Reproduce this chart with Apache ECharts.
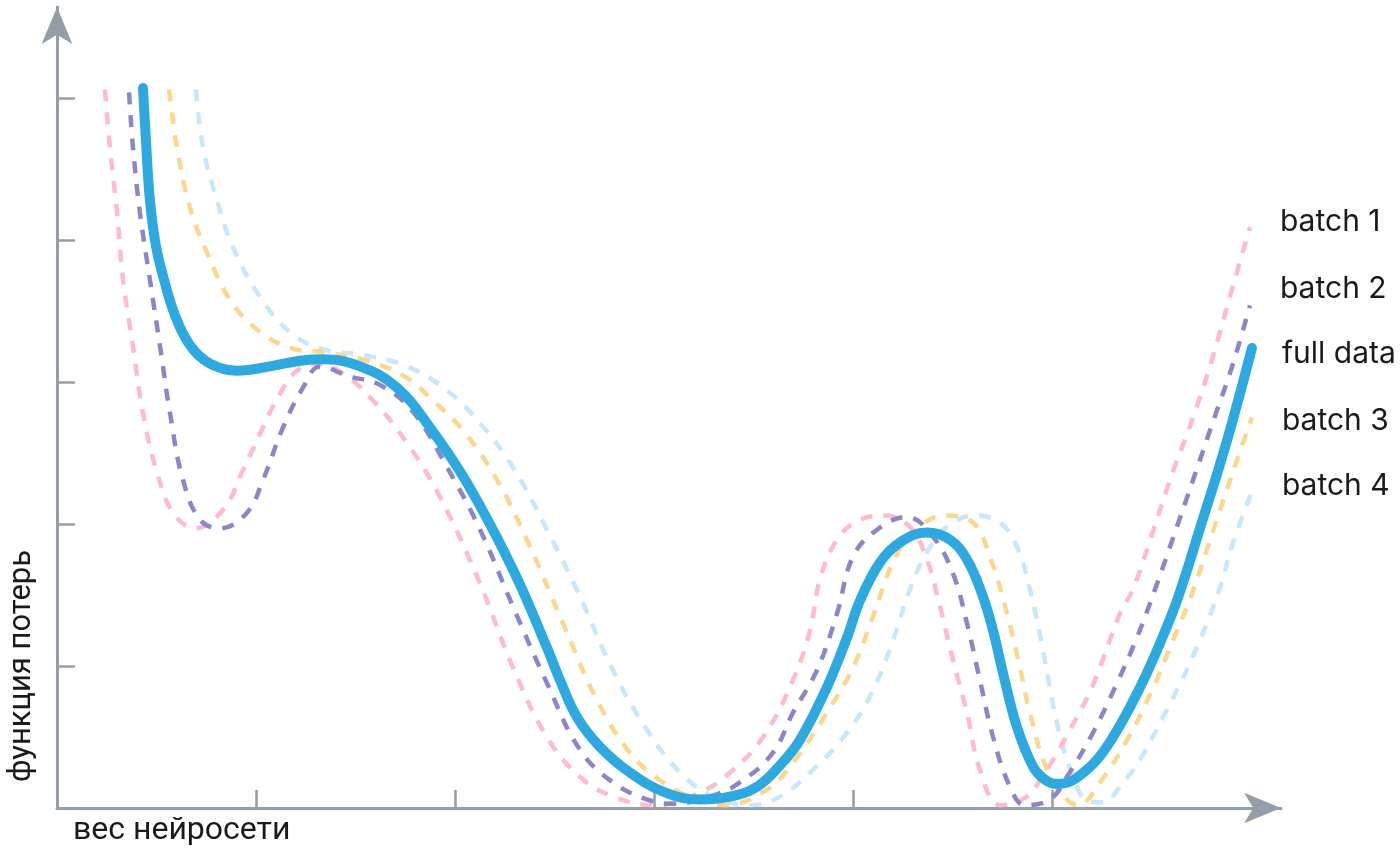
<!DOCTYPE html>
<html>
<head>
<meta charset="utf-8">
<script src="https://cdn.jsdelivr.net/npm/echarts@6/dist/echarts.min.js"></script>
<style>html,body{margin:0;padding:0;background:#fff}#c{width:1400px;height:850px}</style>
</head>
<body>
<div id="c"></div>
<script>
const seriesNames = ['batch 1', 'batch 2', 'batch 3', 'batch 4', 'full data'];
const xAxisTicks = [1, 2, 3, 4, 5];
const yAxisTicks = [1, 2, 3, 4, 5];
const xAxisTitle = 'вес нейросети';
const yAxisTitle = 'функция потерь';

const batch1 = [[0.241,5.06],[0.266,4.65],[0.302,4.19],[0.332,3.72],[0.382,3.25],[0.432,2.78],[0.503,2.36],[0.583,2.08],[0.693,1.97],[0.834,2.10],[0.935,2.38],[1.035,2.68],[1.121,2.92],[1.206,3.08],[1.307,3.13],[1.437,3.06],[1.588,2.87],[1.759,2.57],[1.925,2.19],[2.126,1.58],[2.291,0.99],[2.462,0.50],[2.628,0.22],[2.794,0.08],[3.005,0.02],[3.231,0.11],[3.382,0.25],[3.548,0.50],[3.698,0.90],[3.784,1.25],[3.834,1.61],[3.920,1.89],[4.035,2.03],[4.161,2.06],[4.286,1.98],[4.372,1.75],[4.437,1.42],[4.503,1.04],[4.573,0.67],[4.638,0.27],[4.739,0.02],[4.874,0.08],[4.950,0.22],[5.010,0.35],[5.090,0.55],[5.201,0.85],[5.342,1.37],[5.407,1.54],[5.508,1.95],[5.608,2.37],[5.709,2.75],[5.809,3.18],[5.910,3.68],[5.995,4.09]];

const batch2 = [[0.362,5.04],[0.382,4.65],[0.417,4.19],[0.467,3.72],[0.518,3.25],[0.568,2.78],[0.633,2.31],[0.719,2.03],[0.819,1.97],[0.955,2.08],[1.035,2.31],[1.136,2.68],[1.236,2.96],[1.322,3.11],[1.467,3.04],[1.623,2.98],[1.789,2.79],[1.960,2.40],[2.126,1.96],[2.291,1.42],[2.462,0.88],[2.628,0.41],[2.794,0.18],[2.965,0.06],[3.095,0.03],[3.281,0.08],[3.432,0.18],[3.598,0.39],[3.698,0.67],[3.819,0.97],[3.920,1.37],[4.000,1.77],[4.121,1.96],[4.271,2.05],[4.402,1.91],[4.503,1.65],[4.573,1.30],[4.638,0.90],[4.704,0.50],[4.789,0.15],[4.864,0.02],[4.990,0.06],[5.080,0.23],[5.206,0.53],[5.327,0.88],[5.427,1.20],[5.518,1.54],[5.608,1.90],[5.709,2.31],[5.809,2.72],[5.910,3.13],[5.995,3.54]];

const batch3 = [[0.563,5.06],[0.603,4.65],[0.668,4.23],[0.754,3.91],[0.869,3.58],[1.005,3.37],[1.171,3.24],[1.337,3.21],[1.558,3.15],[1.759,3.03],[1.874,2.89],[2.040,2.66],[2.211,2.31],[2.377,1.84],[2.543,1.30],[2.714,0.76],[2.879,0.39],[3.045,0.18],[3.216,0.06],[3.357,0.02],[3.568,0.13],[3.698,0.32],[3.869,0.67],[4.000,0.99],[4.101,1.35],[4.201,1.73],[4.302,1.94],[4.462,2.06],[4.603,2.01],[4.688,1.77],[4.774,1.37],[4.839,0.99],[4.889,0.67],[4.975,0.27],[5.075,0.06],[5.131,0.02],[5.241,0.18],[5.382,0.49],[5.503,0.83],[5.608,1.18],[5.709,1.53],[5.809,1.95],[5.910,2.37],[6.005,2.75]];

const batch4 = [[0.698,5.06],[0.734,4.65],[0.804,4.28],[0.884,3.95],[1.020,3.60],[1.171,3.35],[1.337,3.23],[1.538,3.19],[1.759,3.11],[1.960,2.94],[2.126,2.71],[2.291,2.40],[2.462,1.96],[2.628,1.49],[2.794,0.97],[2.965,0.55],[3.131,0.25],[3.296,0.08],[3.482,0.02],[3.633,0.08],[3.784,0.25],[3.970,0.53],[4.101,0.83],[4.201,1.18],[4.286,1.54],[4.372,1.80],[4.472,1.98],[4.613,2.06],[4.739,2.01],[4.824,1.84],[4.889,1.54],[4.955,1.11],[5.025,0.60],[5.106,0.22],[5.181,0.05],[5.256,0.04],[5.357,0.18],[5.442,0.34],[5.558,0.64],[5.693,1.02],[5.834,1.51],[5.910,1.87],[6.005,2.23]];

const fullData = [[0.432,5.07],[0.447,4.70],[0.467,4.28],[0.497,3.96],[0.538,3.72],[0.593,3.47],[0.668,3.26],[0.769,3.13],[0.905,3.08],[1.070,3.11],[1.221,3.15],[1.337,3.16],[1.523,3.11],[1.709,2.96],[1.874,2.68],[2.060,2.29],[2.291,1.68],[2.462,1.13],[2.528,0.90],[2.613,0.64],[2.729,0.43],[2.879,0.25],[3.055,0.11],[3.231,0.06],[3.382,0.08],[3.518,0.15],[3.633,0.30],[3.734,0.48],[3.869,0.85],[3.970,1.20],[4.035,1.46],[4.136,1.73],[4.236,1.87],[4.372,1.94],[4.487,1.89],[4.573,1.75],[4.653,1.49],[4.704,1.25],[4.754,0.95],[4.824,0.57],[4.905,0.29],[4.955,0.21],[5.015,0.17],[5.080,0.18],[5.141,0.23],[5.226,0.34],[5.307,0.50],[5.392,0.71],[5.477,0.95],[5.558,1.21],[5.633,1.48],[5.744,1.97],[5.874,2.56],[6.005,3.24]];

const axisColor = '#939ea8';
const labelFont = 'Inter';

function dashed(name, data, color, dy, z) {
  return {
    name: name, type: 'line', data: data, smooth: 0.4, symbol: 'none', z: z,
    lineStyle: { color: color, width: 4.5, type: [12, 11] },
    endLabel: { show: true, formatter: '{a}', distance: 30, offset: [0, dy],
      color: '#1a1a1a', fontSize: 30, fontFamily: labelFont },
    animation: false
  };
}

const chart = echarts.init(document.getElementById('c'), null, { renderer: 'canvas' });
chart.setOption({
  animation: false,
  grid: { left: 57, top: 7, right: 119, bottom: 42, containLabel: false },
  xAxis: {
    type: 'value', min: 0, max: 6.151,
    axisLine: { show: true, onZero: false, symbol: ['none', 'arrow'], symbolSize: [23, 37],
      lineStyle: { color: axisColor, width: 3 } },
    axisTick: { show: true, inside: true, length: 18, customValues: xAxisTicks,
      lineStyle: { color: axisColor, width: 2.5 } },
    axisLabel: { show: false }, splitLine: { show: false }
  },
  yAxis: {
    type: 'value', min: 0, max: 5.641,
    axisLine: { show: true, onZero: false, symbol: ['none', 'arrow'], symbolSize: [23, 37],
      lineStyle: { color: axisColor, width: 3 } },
    axisTick: { show: true, inside: true, length: 18, customValues: yAxisTicks,
      lineStyle: { color: axisColor, width: 2.5 } },
    axisLabel: { show: false }, splitLine: { show: false }
  },
  graphic: [
    { type: 'text', x: 73, y: 831, style: { text: xAxisTitle, fontSize: 32, fontFamily: 'Roboto', fill: '#1a1a1a', align: 'left', verticalAlign: 'middle' } },
    { type: 'text', x: 22, y: 666, rotation: Math.PI / 2,
      style: { text: yAxisTitle, fontSize: 31, fontFamily: 'Roboto', fill: '#1a1a1a', align: 'center', verticalAlign: 'middle' } }
  ],
  series: [
    dashed(seriesNames[0], batch1, '#ffbacb', -5, 2),
    dashed(seriesNames[1], batch2, '#8c86c9', -16, 3),
    dashed(seriesNames[2], batch3, '#fdd68e', 3, 2),
    dashed(seriesNames[3], batch4, '#c6e7fc', -5, 1),
    {
      name: seriesNames[4], type: 'line', data: fullData, smooth: 0.4, symbol: 'none', z: 5,
      lineStyle: { color: '#2ea9e0', width: 10, cap: 'round', join: 'round' },
      endLabel: { show: true, formatter: '{a}', distance: 30, offset: [0, 6],
        color: '#1a1a1a', fontSize: 30, fontFamily: labelFont },
      animation: false
    }
  ]
});
</script>
</body>
</html>
